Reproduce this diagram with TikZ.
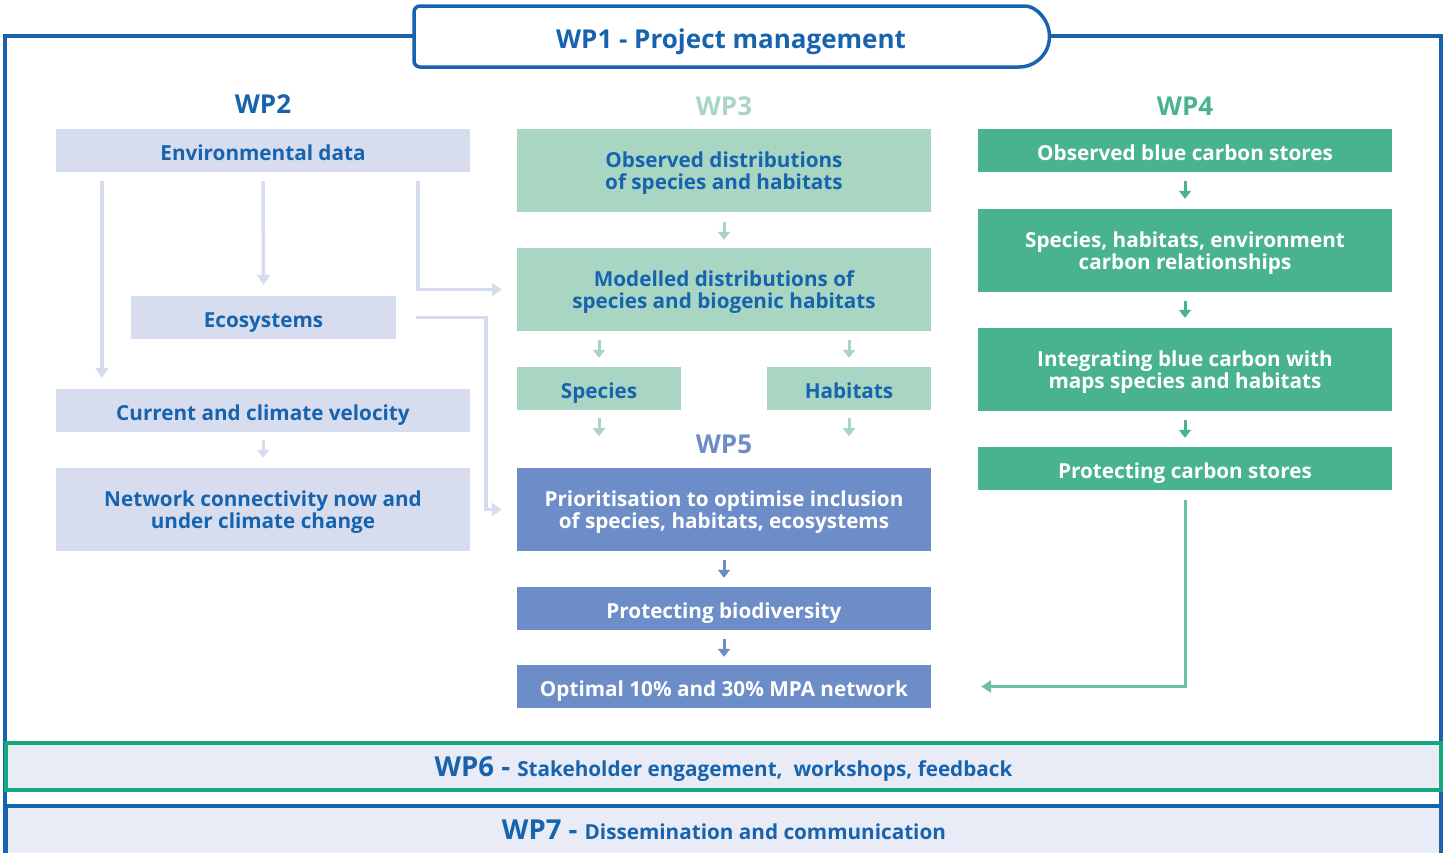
\documentclass[tikz,border=0pt]{standalone}
\usepackage{fontspec}
\setmainfont{Open Sans}
\usetikzlibrary{arrows.meta,calc}
\definecolor{wpblue}{RGB}{23,99,174}
\definecolor{lav}{RGB}{215,221,239}
\definecolor{lavarrow}{RGB}{213,220,240}
\definecolor{mint}{RGB}{169,214,195}
\definecolor{sea}{RGB}{73,179,145}
\definecolor{sealight}{RGB}{109,193,158}
\definecolor{steel}{RGB}{108,141,200}
\definecolor{band}{RGB}{233,236,247}
\definecolor{bandgreen}{RGB}{20,168,126}
\tikzset{
  wpframe/.style={draw=wpblue, line width=3.5pt},
  wptitle/.style={font=\fontsize{26}{26}\selectfont\bfseries},
  box/.style={rectangle, inner sep=2pt, align=center,
    minimum width=414pt, minimum height=43pt, text height=20pt, text depth=0pt,
    font=\fontsize{20.7}{22}\selectfont\bfseries},
  wp2box/.style={box, fill=lav, text=wpblue},
  wp3box/.style={box, fill=mint, text=wpblue},
  wp4box/.style={box, fill=sea, text=white},
  wp5box/.style={box, fill=steel, text=white},
  tall/.style={minimum height=83pt, text height={}, text depth=-7pt},
  lavline/.style={draw=lavarrow, line width=3.5pt, -{Triangle[length=10pt,width=13pt]}},
  smallarrow/.style={line width=3pt, -{Triangle[length=8pt,width=12pt]}}
}
\begin{document}
\begin{tikzpicture}[x=1pt,y=-1pt]
  \useasboundingbox (0,0) rectangle (1453,852);
  % outer frame and WP1
  \draw[wpframe] (5,870) |- (1441,36) -- (1441,870);
  \draw[wpframe, fill=white, rounded corners=6] (1019,67) -- (414,67) -- (414,6) -- (1019,6)
    [sharp corners] arc(-90:90:30.5) -- cycle;
  \node[wptitle, text=wpblue] (wp1) at (731,42) {WP1 - Project management};

  % titles
  \node[wptitle, text=wpblue] (wp2) at (263,104) {WP2};
  \node[wptitle, text=mint] (wp3) at (724,106) {WP3};
  \node[wptitle, text=sea] (wp4) at (1185,106) {WP4};
  \node[wptitle, text=steel] (wp5) at (724,444) {WP5};

  % WP2
  \node[wp2box] (env) at (263,150.5) {Environmental data};
  \node[wp2box, minimum width=265pt] (eco) at (263.5,317.5) {Ecosystems};
  \node[wp2box] (cur) at (263,410.5) {Current and climate velocity};
  \node[wp2box, tall] (net) at (263,509.5) {Network connectivity now and\\under climate change};

  % WP3
  \node[wp3box, tall] (obs) at (724,170.5) {Observed distributions\\of species and habitats};
  \node[wp3box, tall] (mod) at (724,289.5) {Modelled distributions of\\species and biogenic habitats};
  \node[wp3box, minimum width=164pt] (spec) at (599,388.5) {Species};
  \node[wp3box, minimum width=164pt] (hab) at (849,388.5) {Habitats};

  % WP5
  \node[wp5box, tall] (prio) at (724,509.5) {Prioritisation to optimise inclusion\\of species, habitats, ecosystems};
  \node[wp5box] (bio) at (724,608.5) {Protecting biodiversity};
  \node[wp5box] (opt) at (724,686.5) {Optimal 10\% and 30\% MPA network};

  % WP4
  \node[wp4box] (blue) at (1185,150.5) {Observed blue carbon stores};
  \node[wp4box, tall] (rel) at (1185,250.5) {Species, habitats, environment\\carbon relationships};
  \node[wp4box, tall] (integ) at (1185,369.5) {Integrating blue carbon with\\maps species and habitats};
  \node[wp4box] (pcs) at (1185,468.5) {Protecting carbon stores};

  % WP2 connectors
  \draw[lavline] ([xshift=46pt,yshift=-9pt]env.south west) -- ([xshift=46pt,yshift=11pt]cur.north west);
  \draw[lavline] ([yshift=-9pt]env.south) -- ([yshift=11pt]eco.north);
  \draw[lavline] ([xshift=-52pt,yshift=-9pt]env.south east) |- ([xshift=-15pt]mod.west);
  \draw[lavline] ([xshift=20pt]eco.east) -- ++(70,0) |- ([xshift=-15pt]prio.west);
  \draw[smallarrow, lavarrow] ([yshift=-8pt]cur.south) -- ([yshift=10pt]net.north);

  % WP3 connectors
  \draw[smallarrow, mint] ([yshift=-10pt]obs.south) -- ([yshift=8pt]mod.north);
  \draw[smallarrow, mint] ($(spec.north |- mod.south)+(0,9)$) -- ($(spec.north)-(0,9)$);
  \draw[smallarrow, mint] ($(hab.north |- mod.south)+(0,9)$) -- ($(hab.north)-(0,9)$);
  \draw[smallarrow, mint] ($(spec.south)+(0,8)$) -- ($(spec.south)+(0,26)$);
  \draw[smallarrow, mint] ($(hab.south)+(0,8)$) -- ($(hab.south)+(0,26)$);

  % WP5 connectors
  \draw[smallarrow, steel] ([yshift=-9pt]prio.south) -- ([yshift=9pt]bio.north);
  \draw[smallarrow, steel] ([yshift=-9pt]bio.south) -- ([yshift=8pt]opt.north);

  % WP4 connectors
  \draw[smallarrow, sea] ([yshift=-9pt]blue.south) -- ([yshift=10pt]rel.north);
  \draw[smallarrow, sea] ([yshift=-9pt]rel.south) -- ([yshift=10pt]integ.north);
  \draw[smallarrow, sea] ([yshift=-9pt]integ.south) -- ([yshift=9pt]pcs.north);
  \draw[sealight, line width=3pt, -{Triangle[length=10pt,width=12pt]}]
    ([yshift=-10pt]pcs.south) |- ([xshift=50pt]opt.east);

  % WP6 and WP7
  \node[draw=bandgreen, line width=3.5pt, fill=band, minimum width=1435pt, minimum height=47pt,
    text depth=0pt, text=wpblue] (wp6) at (723.5,766.5)
    {{\fontsize{27.5}{27.5}\selectfont\bfseries WP6 -\ }{\fontsize{20.7}{20.7}\selectfont\bfseries Stakeholder engagement,\ \ workshops, feedback}};
  \draw[wpframe, fill=band] (6,880) |- (1441,806) -- (1441,880);
  \node[text=wpblue] (wp7) at (724,830)
    {{\fontsize{27.5}{27.5}\selectfont\bfseries WP7 -\ }{\fontsize{20.7}{20.7}\selectfont\bfseries Dissemination and communication}};
\end{tikzpicture}
\end{document}
